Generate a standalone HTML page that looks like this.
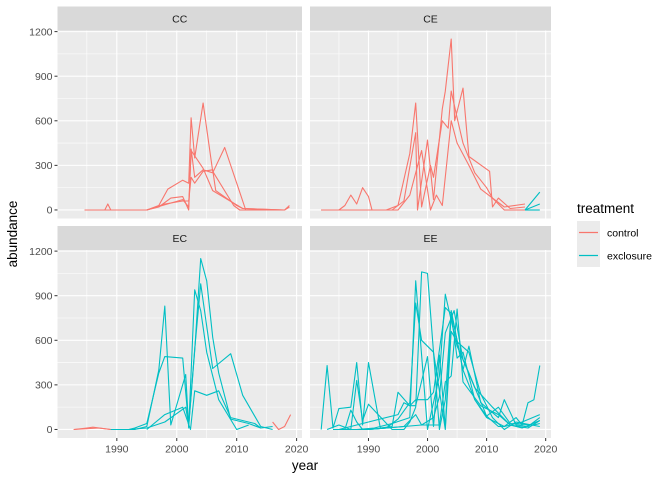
<!DOCTYPE html>
<html><head><meta charset="utf-8">
<style>
body{margin:0;background:#fff;}
svg{font-family:"Liberation Sans",Arial,sans-serif;display:block;}
</style></head>
<body>
<svg id="chart" width="672" height="480" xmlns="http://www.w3.org/2000/svg"></svg>
<script>
// ---- data ----
const facetNames = ["CC","CE","EC","EE"];
const xTicks = [1990,2000,2010,2020];
const yTicks = [0,300,600,900,1200];
const treatments = ["control","exclosure"];
// each series: facet index, treatment, years, values
const seriesFacet = [0,0,0,0, 1,1,1,1,1,1, 2,2,2,2,2,2,2, 3,3,3,3,3,3,3,3];
const seriesTreat = ["control","control","control","control",
 "control","control","control","exclosure","exclosure","exclosure",
 "control","control","exclosure","exclosure","exclosure","exclosure","control",
 "control","exclosure","exclosure","exclosure","exclosure","exclosure","exclosure","exclosure"];
const seriesYears = [
 [1984.6,1988,1988.5,1989,1995,1997,1998.5,2001,2002,2002.4,2003,2004.4,2006,2009.5,2010.5,2018,2018.8],
 [1984.6,1995,1997,1999,2001,2002,2002.4,2003,2004.4,2006,2008,2010.5,2011.5,2018],
 [1995,1998,2001,2002,2002.4,2003,2004.4,2006,2006.5,2010,2011,2018,2018.8],
 [1995,2001,2002,2002.4,2004.4,2006,2011,2018],
 [1982,1985,1986,1987,1988,1989,1990,1990.6,1994,1996,1998,1998.3,2000,2001,2002.5,2003,2004,2004.6,2006,2007,2010.5,2011,2012,2014,2016.5],
 [1982,1993,1995,1997,1998,1999,2000.5,2001,2002.5,2003.5,2004,2005,2006,2008,2010,2011,2013,2016.5],
 [1982,1995,1997,1998,1999,2000.5,2001.5,2002.5,2004,2005,2007,2009,2011,2013,2016.5],
 [2016.5,2019],
 [2016.5,2019],
 [2016.5,2019],
 [1982.8,1985,1986,1989],
 [1982.8,1987,1989],
 [1989,1993,1995,1997,1998,1999,2001.5,2002,2003,2004,2005,2007,2010,2012],
 [1989,1992,1993,1995,1997,1998,2001,2002,2003,2004,2006,2009,2011,2014,2016],
 [1992,1995,1998,2001.5,2002,2003,2004,2005,2006,2007,2009,2012,2014],
 [1995,1998,2001,2002.3,2003,2005,2007,2009,2013,2014,2016],
 [2016,2017,2018,2019],
 [1985,1988,1990],
 [1982,1983,1984,1985,1987,1988,1989,1990,1992,1994,1995,1997,1998,2000,2001,2003,2004,2005,2006,2008,2010,2012,2013,2015,2016,2017,2018,2019],
 [1983,1985,1987,1988,1989,1990,1994,1996,1997,1998,1999,2000,2002,2003,2004,2006,2007,2009,2012,2013,2015,2017,2019],
 [1986,1987,1988,1989,1990,1993,1995,1997,1998,1999,2001,2003,2004,2005,2007,2009,2011,2013,2015,2019],
 [1985,1990,1995,1996,1997,1998,2000,2001,2002,2003,2004,2006,2008,2010,2013,2016,2019],
 [1990,1993,1996,1998,1999,2001,2002,2003,2004.5,2006,2008,2011,2014,2017,2019],
 [1988,1991,1994,1997,1998,2000,2002,2003,2005,2007,2010,2012,2014,2018,2019],
 [1984,1990,1996,1999,2002,2003,2004,2005,2006,2009,2012,2014,2016,2019]
];
const seriesValues = [
 [0,0,40,0,0,30,140,200,180,620,350,720,260,30,0,0,30],
 [0,0,20,80,90,0,410,220,270,250,420,120,0,0],
 [0,40,60,60,220,180,260,270,130,30,10,0,20],
 [0,70,20,400,280,130,10,0],
 [0,0,30,100,40,150,90,0,0,60,520,0,470,70,680,800,1150,600,820,360,260,20,80,10,20],
 [0,0,30,380,720,20,300,220,600,550,800,620,450,250,150,80,0,0],
 [0,0,100,250,400,0,100,30,600,450,300,140,80,20,40],
 [0,120],
 [0,40],
 [0,0],
 [0,10,15,0],
 [0,10,0],
 [0,0,20,400,830,30,370,10,940,800,520,200,0,30],
 [0,0,10,40,380,490,480,20,540,980,410,510,230,20,0],
 [0,10,50,150,30,530,1150,1000,620,380,70,40,10],
 [0,100,150,0,260,230,260,80,40,10,20],
 [50,0,20,100],
 [0,0,0],
 [0,430,10,140,150,450,30,450,10,20,250,160,200,200,250,820,780,480,520,200,90,20,20,80,30,180,200,430],
 [0,30,0,330,60,170,0,0,50,150,1060,1050,0,200,800,400,560,180,80,200,30,20,80],
 [0,130,50,0,0,10,70,180,850,600,520,0,660,590,520,240,80,0,50,20],
 [0,50,100,180,160,160,490,20,500,10,790,400,200,80,20,50,100],
 [0,10,20,100,30,80,220,650,800,470,280,150,30,10,60],
 [0,10,40,80,1000,0,360,910,560,380,90,150,40,30,40],
 [0,0,20,30,30,320,360,810,320,160,100,30,10,60]
];
// ---- layout ----
const svg = document.getElementById('chart');
const NS = "http://www.w3.org/2000/svg";
const panels = [
 {x0:57.5,x1:302,y0:30.5,y1:218.5},
 {x0:310,x1:551,y0:30.5,y1:218.5},
 {x0:57.5,x1:302,y0:250,y1:438},
 {x0:310,x1:551,y0:250,y1:438}
];
const colors = {control:"#F8766D",exclosure:"#00BFC4"};
const xMin=1980.1, xMax=2020.9, yMin=-57.5, yMax=1207.5;
function xs(p,v){return p.x0+(v-xMin)/(xMax-xMin)*(p.x1-p.x0);}
function ys(p,v){return p.y1-(v-yMin)/(yMax-yMin)*(p.y1-p.y0);}
function mk(tag,attrs,parent){const e=document.createElementNS(NS,tag);for(const k in attrs)e.setAttribute(k,attrs[k]);(parent||svg).appendChild(e);return e;}

panels.forEach((p,i)=>{
 const g=mk('g',{});
 
 
 mk('rect',{x:p.x0,y:p.y0,width:p.x1-p.x0,height:p.y1-p.y0,fill:"#EBEBEB"},g);
 // minor grid
 for(let k=0;k<xTicks.length;k++){
  const m=xTicks[k]-5; const xx=xs(p,m);
  if(xx>p.x0&&xx<p.x1) mk('line',{x1:xx,x2:xx,y1:p.y0,y2:p.y1,stroke:"#fff","stroke-width":0.55},g);
 }
 for(let k=0;k<yTicks.length-1;k++){
  const yy=ys(p,yTicks[k]+150);
  mk('line',{x1:p.x0,x2:p.x1,y1:yy,y2:yy,stroke:"#fff","stroke-width":0.55},g);
 }
 xTicks.forEach(t=>{const xx=xs(p,t);mk('line',{x1:xx,x2:xx,y1:p.y0,y2:p.y1,stroke:"#fff","stroke-width":1.1},g);});
 yTicks.forEach(t=>{const yy=ys(p,t);mk('line',{x1:p.x0,x2:p.x1,y1:yy,y2:yy,stroke:"#fff","stroke-width":1.1},g);});
 // strip
 const sy=p.y0-24;
 const strip=mk('rect',{x:p.x0,y:sy,width:p.x1-p.x0,height:24,fill:"#D9D9D9"});
 
 
 const st=mk('text',{x:(p.x0+p.x1)/2,y:sy+16,"text-anchor":"middle","font-size":"10.5",fill:"#1A1A1A"});
 st.textContent=facetNames[i];
 
 
 // y ticks on left panels
 if(i%2===0){yTicks.forEach(t=>{const yy=ys(p,t);
  mk('line',{x1:p.x0-3,x2:p.x0,y1:yy,y2:yy,stroke:"#333","stroke-width":1});
  const tl=mk('text',{x:p.x0-5,y:yy+3.7,"text-anchor":"end","font-size":"10.5",fill:"#4D4D4D"});
  tl.textContent=t;
  
  
 });}
 if(i>=2){xTicks.forEach(t=>{const xx=xs(p,t);
  mk('line',{x1:xx,x2:xx,y1:p.y1,y2:p.y1+3,stroke:"#333","stroke-width":1});
  const tl=mk('text',{x:xx,y:p.y1+14.5,"text-anchor":"middle","font-size":"10.5",fill:"#4D4D4D"});
  tl.textContent=t;
  
  
 });}
});
// series
seriesYears.forEach((yrs,s)=>{
 const p=panels[seriesFacet[s]];
 const pts=yrs.map((y,j)=>xs(p,y).toFixed(1)+","+ys(p,seriesValues[s][j]).toFixed(1)).join(" ");
 const pl=mk('polyline',{points:pts,fill:"none",stroke:colors[seriesTreat[s]],"stroke-width":1.1,"stroke-linejoin":"round"});
 
 
});
// axis titles
const xt=mk('text',{x:305,y:470,"text-anchor":"middle","font-size":"13.5",fill:"#000"});
xt.textContent="year";


const yt=mk('text',{x:0,y:0,"text-anchor":"middle","font-size":"13.5",fill:"#000",transform:"translate(17,234) rotate(-90)"});
yt.textContent="abundance";


// legend
const lt=mk('text',{x:577,y:213,"font-size":"13.5",fill:"#000"});
lt.textContent="treatment";


treatments.forEach((t,k)=>{
 const yy=221+k*23;
 const g=mk('g',{});
 
 
 mk('rect',{x:577,y:yy,width:23,height:23,fill:"#EBEBEB"},g);
 mk('line',{x1:579,x2:598,y1:yy+11.5,y2:yy+11.5,stroke:colors[t],"stroke-width":1.2},g);
 const tx=mk('text',{x:607,y:yy+15.5,"font-size":"10.5",fill:"#000"},g);
 tx.textContent=t;
});
</script>
</body></html>
